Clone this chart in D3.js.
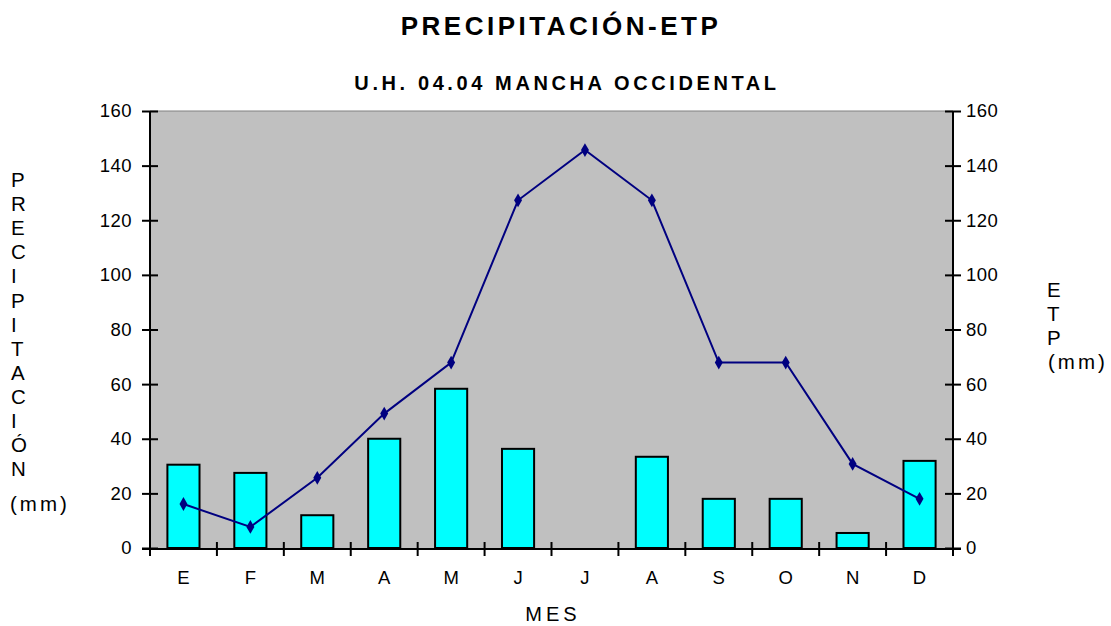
<!DOCTYPE html>
<html><head><meta charset="utf-8">
<script src="https://cdn.jsdelivr.net/npm/d3@7"></script>
<style>body{margin:0;background:#fff}svg{display:block;font-family:"Liberation Sans",Arial,sans-serif}</style>
</head><body>
<svg id="c" width="1111" height="626"></svg>
<script>
const months = ["E","F","M","A","M","J","J","A","S","O","N","D"];
const precipitacion = [30.5,27.5,12,40,58.3,36.3,0,33.4,18,18,5.5,31.9];
const etp = [16.1,7.7,25.7,49.2,67.9,127.3,145.7,127.3,67.9,67.9,30.8,18];
const yTicks = [0,20,40,60,80,100,120,140,160];

const svg = d3.select("#c");
const L = 150, R = 953, T = 111, B = 549;
const idx = months.map((d,i)=>i);
const x = d3.scaleBand().domain(idx).range([L,R]).paddingInner(0).paddingOuter(0);
const y = d3.scaleLinear().domain([0,160]).range([B-1,T]);

// plot area
svg.append("rect").attr("x",L).attr("y",T).attr("width",R-L).attr("height",B-T).attr("fill","#c0c0c0");
svg.append("line").attr("x1",L).attr("x2",R).attr("y1",T).attr("y2",T).attr("stroke","#808080").attr("stroke-width",1);

// bars
const bw = x.bandwidth()*0.48;
svg.append("g").selectAll("rect").data(precipitacion.map((v,i)=>({v,i})).filter(d=>d.v>0)).join("rect")
  .attr("x",d=>x(d.i)+x.bandwidth()/2-bw/2)
  .attr("y",d=>y(d.v))
  .attr("width",bw)
  .attr("height",d=>y(0)-y(d.v))
  .attr("fill","#00ffff").attr("stroke","#000").attr("stroke-width",2);

// axes
const fs = "18.5px";
const yl = d3.axisLeft(y).tickValues(yTicks).tickSize(8).tickPadding(8);
const gl = svg.append("g").attr("transform",`translate(${L},0)`).call(yl);
const yr = d3.axisRight(y).tickValues(yTicks).tickSize(8).tickPadding(8);
const gr = svg.append("g").attr("transform",`translate(${R},0)`).call(yr);
[gl,gr].forEach(g=>{
  g.selectAll(".tick line").attr("x1",-8).attr("x2",8);
  g.select(".domain").attr("d",`M0,${T}V${B}`).attr("stroke","#000").attr("stroke-width",2);
  g.selectAll(".tick line").attr("stroke","#000").attr("stroke-width",2);
  g.selectAll("text").attr("font-size",fs).attr("fill","#000").attr("letter-spacing","0.5px")
    .attr("font-family","Liberation Sans, Arial, sans-serif");
});
gl.selectAll("text").attr("x",-18);
gr.selectAll("text").attr("x",13);

const xa = d3.axisBottom(x).tickFormat(i=>months[i]).tickSize(0).tickPadding(22);
const gx = svg.append("g").attr("transform",`translate(0,${B})`).call(xa);
gx.select(".domain").attr("d",`M${L-8},0H${R+8}`).attr("stroke","#000").attr("stroke-width",2);
gx.selectAll("text").attr("font-size",fs).attr("fill","#000").attr("font-family","Liberation Sans, Arial, sans-serif");
// category boundary ticks
const bounds = d3.range(0,13).map(k=>L + k*x.step());
gx.selectAll("line.b").data(bounds).join("line").attr("class","b")
  .attr("x1",d=>d).attr("x2",d=>d).attr("y1",-7).attr("y2",7)
  .attr("stroke","#000").attr("stroke-width",2);

// line
const line = d3.line().x((d,i)=>x(i)+x.bandwidth()/2).y(d=>y(d));
svg.append("path").datum(etp).attr("d",line).attr("fill","none").attr("stroke","#000080").attr("stroke-width",2);
svg.append("g").selectAll("path").data(etp).join("path")
  .attr("transform",(d,i)=>`translate(${x(i)+x.bandwidth()/2},${y(d)})`)
  .attr("d",d3.symbol(d3.symbolDiamond,55)).attr("fill","#000080");

// titles
svg.append("text").attr("x",561).attr("y",35).attr("text-anchor","middle")
  .attr("font-size","26px").attr("font-weight","bold").attr("letter-spacing","3.5px").text("PRECIPITACIÓN-ETP");
svg.append("text").attr("x",567).attr("y",90).attr("text-anchor","middle")
  .attr("font-size","20px").attr("font-weight","bold").attr("letter-spacing","3.6px").text("U.H. 04.04 MANCHA OCCIDENTAL");
svg.append("text").attr("x",553).attr("y",621).attr("text-anchor","middle")
  .attr("font-size","20px").attr("letter-spacing","4px").text("MES");

// vertical left title
const leftLetters = ["P","R","E","C","I","P","I","T","A","C","I","Ó","N"];
const lt = svg.append("g").attr("font-size","20.5px");
lt.selectAll("text").data(leftLetters).join("text")
  .attr("x",11).attr("y",(d,i)=>187+i*24.1).text(d=>d);
lt.append("text").attr("x",10).attr("y",511).attr("letter-spacing","3px").text("(mm)");

const rightLetters = ["E","T","P"];
const rt = svg.append("g").attr("font-size","20.5px");
rt.selectAll("text").data(rightLetters).join("text")
  .attr("x",1047).attr("y",(d,i)=>297+i*24.1).text(d=>d);
rt.append("text").attr("x",1048).attr("y",369).attr("letter-spacing","3px").text("(mm)");
</script>
</body></html>
